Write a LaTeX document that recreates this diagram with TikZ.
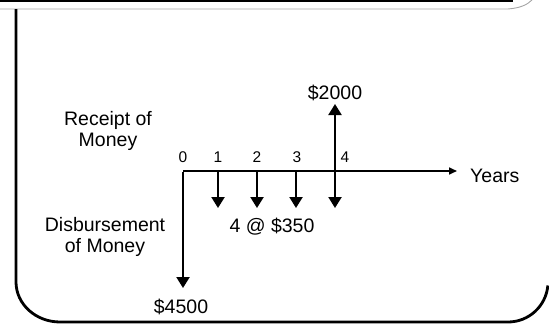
\documentclass[tikz,border=0pt]{standalone}
\usepackage{fontspec}
\setmainfont{Liberation Sans}
\usetikzlibrary{arrows.meta}
\begin{document}
\begin{tikzpicture}[x=1pt,y=-1pt,
  lbl/.style={inner sep=0pt, align=center, font=\fontsize{19.5}{21}\selectfont},
  tick/.style={inner sep=0pt, font=\fontsize{15.5}{17}\selectfont},
  flow/.style={line width=2.2pt, -{Triangle[width=13pt,length=11pt]}},
  axis/.style={line width=1.6pt, -{Triangle[width=7pt,length=8pt]}},
  frame/.style={line width=2.8pt}]
\useasboundingbox (0,0) rectangle (549,324);
% frame
\draw[line width=1.6pt] (0,0.8) -- (513,0.8);
\draw[gray!70, line width=0.9pt] (0,9) -- (508,9) .. controls (520,8) and (527,5) .. (532,0);
\draw[frame] (16,9) -- (16,282) arc[start angle=180, end angle=90, x radius=44pt, y radius=-40pt] -- (508,322) arc[start angle=-90, end angle=-5, x radius=40pt, y radius=40pt];
% coordinates
\coordinate (o) at (183,171);
\coordinate (xend) at (457,171);
\coordinate (t1) at (218,171);
\coordinate (t2) at (257,171);
\coordinate (t3) at (296,171);
\coordinate (t4) at (335,171);
\coordinate (b1) at (218,208);
\coordinate (b2) at (257,208);
\coordinate (b3) at (296,208);
\coordinate (b4) at (335,208);
\coordinate (u4) at (335,104);
\coordinate (ob) at (183,288);
% axis
\draw[axis] (o) -- (xend);
\node[lbl, anchor=west] (years) at (470,176) {Years};
% ticks
\node[tick] (n0) at (183,157) {0};
\node[tick] (n1) at (218,157) {1};
\node[tick] (n2) at (257,157) {2};
\node[tick] (n3) at (297,157) {3};
\node[tick] (n4) at (345,157) {4};
% flows
\draw[flow] (t1) -- (b1);
\draw[flow] (t2) -- (b2);
\draw[flow] (t3) -- (b3);
\draw[flow] (t4) -- (b4);
\draw[flow] (t4) -- (u4);
\draw[flow] ([yshift=-1pt]o) -- (ob);
% labels
\node[lbl] (r2000) at (335,93) {\$2000};
\node[lbl] (r350) at (272,227) {4 @ \$350};
\node[lbl] (r4500) at (181,307) {\$4500};
\node[lbl] (rec) at (108,131) {Receipt of\\Money};
\node[lbl] (dis) at (105,237) {Disbursement\\of Money};
\end{tikzpicture}
\end{document}
